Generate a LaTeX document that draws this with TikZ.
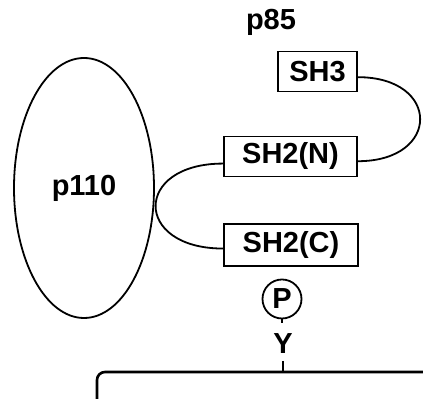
\documentclass[tikz,border=0pt]{standalone}
\usepackage{fontspec}
\setmainfont{Liberation Sans}
\usetikzlibrary{shapes.geometric,calc}

\begin{document}
\begin{tikzpicture}[x=0.5pt,y=-0.5pt,line width=0.9pt,
        font=\fontsize{14.5}{17}\selectfont\bfseries,
        dom/.style={draw,rectangle,inner sep=0pt,minimum height=20pt}]
        \useasboundingbox (0,0) rectangle (423,399);
        % --- p110 ---
        \node[draw,ellipse,inner sep=0pt,minimum width=70pt,minimum height=130pt] (p110) at (84,188) {p110};
        % --- p85 e i suoi domini ---
        \node (p85) at (271,22) {p85};
        \node[dom,minimum width=39.5pt] (sh3) at (317.5,71.5) {SH3};
        \node[dom,minimum width=66.5pt] (sh2n) at (290.5,156.5) {SH2(N)};
        \node[dom,minimum width=67pt,minimum height=21pt] (sh2c) at (291,245) {SH2(C)};
        \draw (sh3.-8) .. controls +(83,0) and +(83,0) .. (sh2n.-4);
        \draw (sh2n.186) .. controls +(-90,0) and +(-90,0) .. (sh2c.183);
        % --- fosfotirosina ---
        \node[draw,circle,inner sep=0pt,minimum size=19.5pt] (pho) at (282,299) {P};
        \coordinate (pl) at (282,323);
        \draw (pho.south) -- (pl);
        \node[inner sep=1pt] (tyr) at (283,344) {Y};
        \coordinate (ty) at (283,361);
        \coordinate (mem) at (283,372);
        \draw (ty) -- (mem);
        % --- membrana ---
        \draw[line width=1.3pt,rounded corners=4pt] (97,399) -- (97,372) -- (423,372);
\end{tikzpicture}
\end{document}
